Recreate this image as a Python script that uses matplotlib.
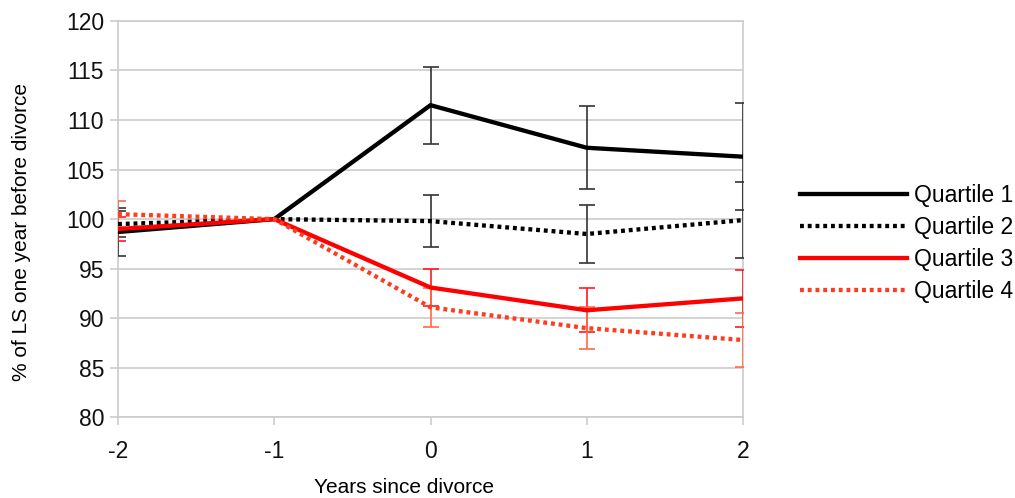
import matplotlib
matplotlib.use("Agg")
import matplotlib.pyplot as plt
import numpy as np

plt.rcParams["font.family"] = ["Liberation Sans", "DejaVu Sans"]

years = [-2, -1, 0, 1, 2]
series_names = ["Quartile 1", "Quartile 2", "Quartile 3", "Quartile 4"]
q1 = [98.7, 100.0, 111.5, 107.2, 106.3]
q2 = [99.5, 100.0, 99.8, 98.5, 99.9]
q3 = [99.0, 100.0, 93.1, 90.8, 92.0]
q4 = [100.5, 100.0, 91.1, 89.0, 87.8]
q1_err = [2.4, 0.0, 3.9, 4.2, 5.4]
q2_err = [1.3, 0.0, 2.6, 2.9, 3.8]
q3_err = [1.2, 0.0, 1.9, 2.2, 2.9]
q4_err = [1.3, 0.0, 2.0, 2.1, 2.7]

y_ticks = [80, 85, 90, 95, 100, 105, 110, 115, 120]

styles = [
    # line colour, error colour, linestyle
    ("#000000", "#333333", "-"),
    ("#000000", "#333333", (0, (0.9, 0.9))),
    ("#ff0000", "#ff1a1a", "-"),
    ("#ff3c1e", "#ff6a4a", (0, (0.9, 0.9))),
]

fig = plt.figure(figsize=(10.15, 4.98), dpi=100)
ax = fig.add_axes([0.1163, 0.162, 0.6157, 0.796])

values = [q1, q2, q3, q4]
errors = [q1_err, q2_err, q3_err, q4_err]

# error bars first, then lines on top
for vals, errs, (lc, ec, ls) in zip(values, errors, styles):
    x = np.array(years, dtype=float)
    y = np.array(vals, dtype=float)
    e = np.array(errs, dtype=float)
    keep = e > 0
    ax.errorbar(x[keep], y[keep], yerr=e[keep], fmt="none", ecolor=ec,
                elinewidth=1.2, capsize=5.5, capthick=1.2, zorder=3)

for name, vals, (lc, ec, ls) in zip(series_names, values, styles):
    ax.plot(years, vals, color=lc, linestyle=ls, linewidth=3.1,
            solid_joinstyle="miter", label=name, zorder=4)

ax.set_xlim(-2, 2)
ax.set_ylim(80, 120)
ax.set_xticks(years)
ax.set_xticklabels([str(v) for v in years])
ax.set_yticks(y_ticks)
ax.yaxis.grid(True, color="#cccccc", linewidth=1.2)
ax.set_axisbelow(True)
for side in ["left", "right", "top", "bottom"]:
    ax.spines[side].set_color("#cccccc")
    ax.spines[side].set_linewidth(1.2)
ax.tick_params(axis="both", colors="#cccccc", labelcolor="#111111",
               labelsize=16.5, length=6, width=1.2)
ax.tick_params(axis="x", pad=10)
ax.tick_params(axis="y", pad=4)

ax.set_xlabel("Years since divorce", fontsize=15)
ax.set_ylabel("% of LS one year before divorce", fontsize=15)
ax.xaxis.set_label_coords(0.458, -0.153)
ax.yaxis.set_label_coords(-0.139, 0.467)

leg = ax.legend(loc="center left", bbox_to_anchor=(1.058, 0.438), frameon=False,
                fontsize=16.5, handlelength=4.67, handletextpad=0.3,
                labelspacing=0.4)

fig.savefig("out.png", dpi=100)
